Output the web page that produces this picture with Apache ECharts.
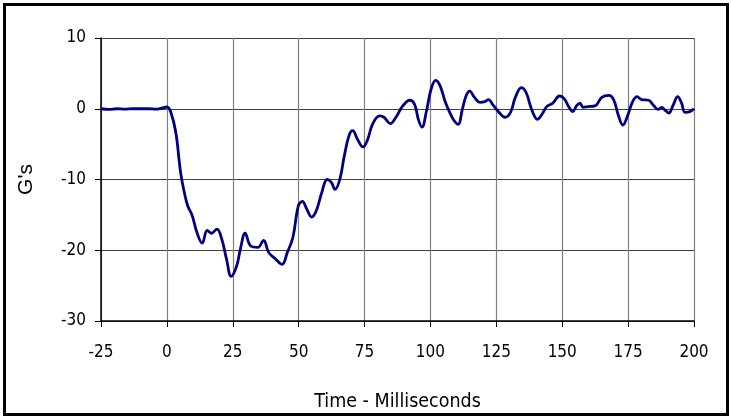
<!DOCTYPE html>
<html><head><meta charset="utf-8">
<script src="https://cdn.jsdelivr.net/npm/echarts@6/dist/echarts.min.js"></script>
<style>
html,body{margin:0;padding:0;background:#fff;}
#c{width:731px;height:419px;}
#frame{position:absolute;left:3px;top:3px;width:720px;height:407px;border:3px solid #000;pointer-events:none;}
</style></head>
<body><div id="c"></div><div id="frame"></div>
<script>
const times = [-25,-22,-19,-16,-13,-10,-7,-4,-2,0,1.5,3.4,5.2,6.6,7.9,9.6,11.4,13.4,15.3,16.9,19,20.8,22.6,24.4,26.5,27.9,29.7,31.8,34.5,36.7,38.6,41.1,43.7,45.7,47.8,49.9,51.4,53.1,54.9,56.7,58.8,60.8,62.4,63.8,65.6,67.3,69.1,70.5,72.3,74.4,76.2,78,80.7,82.4,84.8,86.9,89.5,92.2,94,95.4,96.8,98.4,100.2,102,103.7,105.5,107.3,109,110.5,112.1,113.5,114.9,116.7,118.8,120.6,122,123.8,126,128.3,130.4,132.2,134.5,136.3,138.4,140.6,142.3,144.1,146.4,149,150.8,152.6,154,155.4,156.7,157.9,159.7,162.4,165,167.7,169.5,171.2,173,174.8,176.6,178.4,180.1,182.8,184.6,186.4,187.8,189,190.4,192.2,193.8,195.2,196.6,198.4,200];
const gValues = [0,-0.1,0,-0.05,0,0,0,-0.05,0.1,0.25,-0.5,-3.4,-9,-11.8,-13.7,-15.1,-17.5,-19,-17.2,-17.6,-17,-18.4,-21.2,-23.7,-22.2,-19.8,-17.6,-19.4,-19.6,-18.6,-20.3,-21.2,-22,-20.3,-18.2,-13.7,-13.1,-14.2,-15.3,-14.4,-11.8,-10,-10.4,-11.4,-10,-6.7,-3.8,-3.1,-4.3,-5.4,-4.3,-2.2,-1,-1.2,-2.1,-1.2,0.4,1.2,0.6,-1.5,-2.6,-0.5,2.7,4,3.2,1.1,-0.5,-1.7,-2.2,-0.1,1.8,2.5,1.6,0.9,1,1.3,0.5,-0.5,-1.2,-0.5,1.6,3,2.3,-0.1,-1.5,-0.8,0.3,0.8,1.8,1.4,0.2,-0.4,0.4,0.8,0.2,0.3,0.4,1.6,1.9,1.3,-0.8,-2.3,-1,0.9,1.7,1.3,1.2,0.5,-0.1,0.2,-0.2,-0.6,0.6,1.7,0.9,-0.5,-0.4,0];
const xTicks = [-25,0,25,50,75,100,125,150,175,200];
const yTicks = [-30,-20,-10,0,10];

const FONT = "'DejaVu Sans Condensed','Liberation Sans Narrow','Liberation Sans',Arial,sans-serif";
const chart = echarts.init(document.getElementById('c'));
chart.setOption({
  animation:false,
  backgroundColor:'#fff',
  grid:{left:101,right:37,top:38,bottom:98,containLabel:false},
  xAxis:{type:'value',min:xTicks[0],max:xTicks[xTicks.length-1],interval:25,
    name:'Time - Milliseconds',nameLocation:'middle',nameGap:71,
    nameTextStyle:{fontFamily:FONT,fontSize:19.5,color:'#000'},
    axisLine:{show:true,onZero:false,lineStyle:{color:'#000',width:1.5}},
    axisTick:{show:true,length:6,lineStyle:{color:'#000'}},
    axisLabel:{fontFamily:FONT,fontSize:17,color:'#000',margin:23},
    splitLine:{show:true,lineStyle:{color:'#808080',width:1.2}}},
  yAxis:{type:'value',min:yTicks[0],max:yTicks[yTicks.length-1],interval:10,
    name:"G's",nameLocation:'middle',nameGap:64,nameRotate:90,
    nameTextStyle:{fontFamily:"'Liberation Sans',Arial,sans-serif",fontSize:21,color:'#000'},
    axisLine:{show:true,onZero:false,lineStyle:{color:'#000',width:1.5}},
    axisTick:{show:true,length:6,lineStyle:{color:'#000'}},
    axisLabel:{fontFamily:FONT,fontSize:17,color:'#000',margin:15},
    splitLine:{show:true,lineStyle:{color:'#404040',width:1.2}}},
  series:[{type:'line',data:times.map((t,i)=>[t,gValues[i]]),showSymbol:false,smooth:0.4,
    lineStyle:{color:'#000080',width:2.8}}]
});
</script></body></html>
